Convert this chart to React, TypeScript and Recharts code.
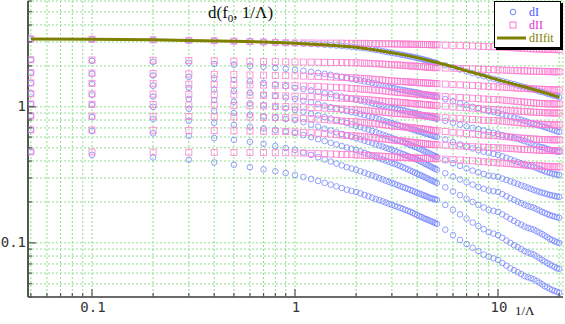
import React from "react";
import { ScatterChart, Scatter, XAxis, YAxis, CartesianGrid, Legend } from "recharts";

// 1/Lambda sample points
const lam = [
  0.05, 0.1, 0.2, 0.3, 0.4, 0.5, 0.6, 0.7, 0.8, 0.9,
  1, 1.1, 1.2, 1.3, 1.4, 1.5, 1.6, 1.7, 1.8, 1.9,
  2, 2.1, 2.2, 2.3, 2.4, 2.5, 2.6, 2.7, 2.8, 2.9,
  3, 3.1, 3.2, 3.3, 3.4, 3.5, 3.6, 3.7, 3.8, 3.9,
  4, 4.1, 4.2, 4.3, 4.4, 4.5, 4.6, 4.7, 4.8, 4.9,
  5, 5.5, 6, 6.5, 7, 7.5, 8, 8.5, 9, 9.5,
  10, 10.5, 11, 11.5, 12, 12.5, 13, 13.5, 14, 14.5,
  15, 15.5, 16, 16.5, 17, 17.5, 18, 18.5, 19, 19.5, 20,
];

// dI curves (blue circles)
const dI1 = [
  3.16, 3.14, 3.11, 3.08, 3.06, 3.04, 3.02, 3.0, 2.98, 2.96,
  2.94, 2.92, 2.9, 2.88, 2.86, 2.84, 2.82, 2.8, 2.78, 2.76,
  2.74, 2.72, 2.7, 2.68, 2.65, 2.62, 2.6, 2.57, 2.54, 2.52,
  2.49, 2.47, 2.45, 2.43, 2.41, 2.39, 2.37, 2.35, 2.33, 2.31,
  2.29, 2.27, 2.25, 2.23, 2.21, 2.19, 2.17, 2.15, 2.13, 2.11,
  2.1, 2.02, 1.95, 1.88, 1.82, 1.77, 1.72, 1.68, 1.64, 1.61,
  1.58, 1.55, 1.52, 1.49, 1.47, 1.44, 1.42, 1.4, 1.38, 1.36,
  1.34, 1.32, 1.3, 1.29, 1.27, 1.25, 1.24, 1.22, 1.21, 1.2, 1.18,
];
const dI2 = [
  2.22, 2.18, 2.14, 2.11, 2.07, 2.04, 2.0, 1.97, 1.93, 1.9,
  1.87, 1.84, 1.81, 1.78, 1.75, 1.72, 1.69, 1.66, 1.63, 1.6,
  1.58, 1.56, 1.54, 1.52, 1.5, 1.48, 1.46, 1.44, 1.42, 1.4,
  1.38, 1.37, 1.35, 1.34, 1.33, 1.32, 1.31, 1.3, 1.29, 1.28,
  1.27, 1.26, 1.25, 1.24, 1.23, 1.22, 1.21, 1.2, 1.19, 1.185,
  1.18, 1.14, 1.1, 1.06, 1.03, 1.0, 0.98, 0.95, 0.93, 0.915,
  0.9, 0.88, 0.865, 0.85, 0.835, 0.82, 0.805, 0.79, 0.775, 0.76,
  0.75, 0.74, 0.73, 0.72, 0.71, 0.7, 0.69, 0.68, 0.67, 0.66, 0.655,
];
const dI3 = [
  1.78, 1.75, 1.7, 1.66, 1.62, 1.58, 1.54, 1.5, 1.46, 1.42,
  1.38, 1.35, 1.32, 1.29, 1.26, 1.24, 1.21, 1.19, 1.17, 1.15,
  1.13, 1.11, 1.095, 1.08, 1.065, 1.05, 1.035, 1.02, 1.005, 0.995,
  0.983, 0.972, 0.962, 0.952, 0.943, 0.934, 0.925, 0.916, 0.907, 0.898,
  0.89, 0.882, 0.874, 0.866, 0.858, 0.851, 0.844, 0.837, 0.83, 0.823,
  0.816, 0.79, 0.765, 0.74, 0.72, 0.7, 0.685, 0.67, 0.655, 0.645,
  0.633, 0.62, 0.61, 0.6, 0.59, 0.58, 0.57, 0.56, 0.55, 0.54,
  0.526, 0.52, 0.51, 0.505, 0.5, 0.49, 0.485, 0.48, 0.475, 0.47, 0.467,
];
const dI4 = [
  1.5, 1.48, 1.43, 1.38, 1.34, 1.31, 1.27, 1.23, 1.2, 1.17,
  1.145, 1.11, 1.08, 1.05, 1.02, 0.995, 0.97, 0.95, 0.93, 0.915,
  0.9, 0.885, 0.87, 0.855, 0.84, 0.825, 0.81, 0.795, 0.783, 0.771,
  0.76, 0.749, 0.738, 0.728, 0.718, 0.708, 0.699, 0.69, 0.682, 0.674,
  0.666, 0.659, 0.652, 0.645, 0.638, 0.631, 0.624, 0.618, 0.612, 0.606,
  0.6, 0.575, 0.55, 0.53, 0.51, 0.495, 0.48, 0.468, 0.458, 0.451,
  0.444, 0.432, 0.422, 0.412, 0.402, 0.393, 0.385, 0.377, 0.37, 0.366,
  0.362, 0.355, 0.348, 0.342, 0.336, 0.331, 0.327, 0.323, 0.32, 0.318, 0.316,
];
const dI5 = [
  1.25, 1.23, 1.19, 1.145, 1.12, 1.09, 1.06, 1.03, 1.0, 0.975,
  0.95, 0.92, 0.89, 0.865, 0.84, 0.82, 0.8, 0.78, 0.76, 0.742,
  0.725, 0.71, 0.695, 0.68, 0.666, 0.652, 0.638, 0.625, 0.613, 0.601,
  0.59, 0.58, 0.57, 0.56, 0.551, 0.542, 0.533, 0.524, 0.516, 0.508,
  0.5, 0.492, 0.484, 0.476, 0.468, 0.461, 0.454, 0.447, 0.44, 0.434,
  0.429, 0.405, 0.385, 0.368, 0.353, 0.34, 0.33, 0.321, 0.313, 0.309,
  0.306, 0.297, 0.29, 0.283, 0.277, 0.271, 0.265, 0.26, 0.255, 0.25,
  0.245, 0.241, 0.237, 0.234, 0.231, 0.228, 0.225, 0.223, 0.221, 0.219, 0.218,
];
const dI6 = [
  1.05, 1.035, 1.0, 0.967, 0.933, 0.9, 0.875, 0.85, 0.83, 0.815,
  0.8, 0.77, 0.74, 0.715, 0.69, 0.67, 0.65, 0.632, 0.616, 0.602,
  0.59, 0.577, 0.564, 0.552, 0.541, 0.53, 0.52, 0.51, 0.5, 0.491,
  0.483, 0.474, 0.466, 0.458, 0.45, 0.442, 0.435, 0.428, 0.421, 0.414,
  0.408, 0.401, 0.394, 0.387, 0.38, 0.374, 0.368, 0.362, 0.356, 0.35,
  0.345, 0.325, 0.307, 0.292, 0.279, 0.268, 0.258, 0.25, 0.243, 0.24,
  0.237, 0.228, 0.22, 0.213, 0.207, 0.201, 0.196, 0.191, 0.187, 0.184,
  0.181, 0.177, 0.173, 0.169, 0.166, 0.163, 0.16, 0.158, 0.156, 0.154, 0.153,
];
const dI7 = [
  0.858, 0.84, 0.815, 0.79, 0.763, 0.737, 0.715, 0.695, 0.676, 0.66,
  0.644, 0.62, 0.598, 0.578, 0.56, 0.544, 0.529, 0.515, 0.502, 0.492,
  0.483, 0.47, 0.459, 0.448, 0.438, 0.428, 0.419, 0.41, 0.402, 0.395,
  0.388, 0.381, 0.374, 0.367, 0.36, 0.353, 0.347, 0.34, 0.334, 0.328,
  0.322, 0.317, 0.312, 0.307, 0.302, 0.297, 0.292, 0.288, 0.284, 0.28,
  0.276, 0.256, 0.239, 0.224, 0.211, 0.2, 0.19, 0.182, 0.175, 0.172,
  0.169, 0.162, 0.156, 0.15, 0.145, 0.14, 0.136, 0.132, 0.129, 0.127,
  0.125, 0.122, 0.119, 0.116, 0.113, 0.11, 0.107, 0.105, 0.103, 0.101, 0.1,
];
const dI8 = [
  0.677, 0.666, 0.638, 0.612, 0.59, 0.572, 0.553, 0.535, 0.515, 0.498,
  0.483, 0.462, 0.443, 0.426, 0.41, 0.396, 0.383, 0.371, 0.36, 0.352,
  0.345, 0.336, 0.328, 0.32, 0.313, 0.306, 0.299, 0.293, 0.287, 0.281,
  0.276, 0.271, 0.266, 0.261, 0.257, 0.253, 0.249, 0.245, 0.241, 0.237,
  0.233, 0.23, 0.227, 0.224, 0.221, 0.218, 0.215, 0.213, 0.211, 0.209,
  0.207, 0.19, 0.175, 0.162, 0.151, 0.141, 0.133, 0.126, 0.12, 0.117,
  0.114, 0.109, 0.104, 0.1, 0.096, 0.093, 0.09, 0.087, 0.085, 0.0835,
  0.082, 0.0795, 0.077, 0.075, 0.073, 0.071, 0.0695, 0.068, 0.0665, 0.065, 0.0645,
];
const dI9 = [
  0.467, 0.444, 0.425, 0.408, 0.39, 0.375, 0.36, 0.347, 0.336, 0.326,
  0.316, 0.305, 0.295, 0.285, 0.276, 0.268, 0.26, 0.253, 0.246, 0.241,
  0.237, 0.231, 0.225, 0.22, 0.215, 0.21, 0.206, 0.202, 0.198, 0.194,
  0.19, 0.187, 0.184, 0.181, 0.178, 0.175, 0.172, 0.169, 0.166, 0.163,
  0.16, 0.157, 0.155, 0.152, 0.15, 0.148, 0.146, 0.144, 0.142, 0.14,
  0.138, 0.125, 0.114, 0.105, 0.098, 0.092, 0.087, 0.082, 0.079, 0.077,
  0.075, 0.071, 0.068, 0.065, 0.063, 0.061, 0.059, 0.057, 0.056, 0.055,
  0.054, 0.0525, 0.051, 0.0495, 0.048, 0.047, 0.046, 0.045, 0.0443, 0.0437, 0.043,
];

// dII curves (magenta squares)
const dII1 = [
  3.16, 3.14, 3.11, 3.08, 3.06, 3.04, 3.02, 3.0, 2.98, 2.96,
  2.95, 2.95, 2.95, 2.94, 2.94, 2.94, 2.94, 2.94, 2.93, 2.93,
  2.93, 2.93, 2.93, 2.92, 2.92, 2.92, 2.92, 2.91, 2.91, 2.91,
  2.9, 2.9, 2.9, 2.9, 2.89, 2.89, 2.89, 2.89, 2.88, 2.88,
  2.88, 2.88, 2.88, 2.87, 2.87, 2.87, 2.87, 2.86, 2.86, 2.86,
  2.86, 2.84, 2.83, 2.82, 2.81, 2.8, 2.79, 2.78, 2.77, 2.765,
  2.76, 2.75, 2.74, 2.73, 2.72, 2.71, 2.7, 2.69, 2.68, 2.675,
  2.67, 2.665, 2.66, 2.655, 2.65, 2.645, 2.64, 2.637, 2.635, 2.632, 2.63,
];
const dII2 = [
  2.22, 2.21, 2.2, 2.19, 2.18, 2.17, 2.16, 2.15, 2.15, 2.14,
  2.14, 2.135, 2.13, 2.13, 2.125, 2.12, 2.12, 2.115, 2.115, 2.11,
  2.11, 2.1, 2.095, 2.09, 2.08, 2.075, 2.07, 2.06, 2.055, 2.05,
  2.04, 2.035, 2.03, 2.025, 2.02, 2.01, 2.005, 2.0, 1.995, 1.99,
  1.985, 1.98, 1.975, 1.97, 1.965, 1.96, 1.955, 1.95, 1.945, 1.94,
  1.94, 1.93, 1.92, 1.915, 1.91, 1.9, 1.895, 1.89, 1.88, 1.875,
  1.87, 1.865, 1.86, 1.855, 1.85, 1.845, 1.84, 1.838, 1.835, 1.832,
  1.83, 1.827, 1.825, 1.822, 1.82, 1.817, 1.815, 1.813, 1.812, 1.811, 1.81,
];
const dII3 = [
  1.78, 1.77, 1.755, 1.745, 1.735, 1.725, 1.715, 1.71, 1.7, 1.695,
  1.69, 1.684, 1.678, 1.672, 1.666, 1.66, 1.654, 1.648, 1.642, 1.636,
  1.63, 1.622, 1.614, 1.606, 1.598, 1.59, 1.582, 1.574, 1.566, 1.558,
  1.55, 1.546, 1.542, 1.538, 1.534, 1.53, 1.526, 1.522, 1.518, 1.514,
  1.51, 1.507, 1.504, 1.501, 1.498, 1.495, 1.492, 1.489, 1.486, 1.483,
  1.48, 1.47, 1.46, 1.452, 1.444, 1.436, 1.428, 1.42, 1.413, 1.406,
  1.4, 1.395, 1.39, 1.385, 1.38, 1.375, 1.37, 1.366, 1.362, 1.358,
  1.354, 1.35, 1.347, 1.344, 1.341, 1.338, 1.335, 1.333, 1.332, 1.331, 1.33,
];
const dII4 = [
  1.5, 1.49, 1.48, 1.47, 1.46, 1.455, 1.45, 1.445, 1.44, 1.435,
  1.43, 1.423, 1.416, 1.409, 1.402, 1.395, 1.388, 1.381, 1.374, 1.367,
  1.36, 1.353, 1.346, 1.339, 1.332, 1.325, 1.318, 1.311, 1.304, 1.297,
  1.29, 1.285, 1.28, 1.275, 1.27, 1.265, 1.26, 1.255, 1.25, 1.245,
  1.24, 1.236, 1.232, 1.228, 1.224, 1.22, 1.216, 1.212, 1.208, 1.204,
  1.2, 1.19, 1.18, 1.172, 1.164, 1.156, 1.149, 1.143, 1.137, 1.133,
  1.13, 1.123, 1.116, 1.109, 1.102, 1.096, 1.09, 1.084, 1.079, 1.074,
  1.069, 1.065, 1.061, 1.058, 1.055, 1.053, 1.052, 1.051, 1.05, 1.05, 1.05,
];
const dII5 = [
  1.25, 1.245, 1.24, 1.235, 1.23, 1.225, 1.22, 1.215, 1.21, 1.205,
  1.2, 1.194, 1.188, 1.182, 1.176, 1.17, 1.164, 1.158, 1.152, 1.148,
  1.145, 1.139, 1.133, 1.127, 1.121, 1.115, 1.109, 1.103, 1.097, 1.093,
  1.09, 1.086, 1.082, 1.078, 1.074, 1.07, 1.066, 1.062, 1.058, 1.054,
  1.05, 1.047, 1.044, 1.041, 1.038, 1.035, 1.032, 1.029, 1.026, 1.023,
  1.02, 1.01, 1.0, 0.992, 0.984, 0.977, 0.97, 0.964, 0.958, 0.954,
  0.95, 0.946, 0.942, 0.938, 0.934, 0.93, 0.926, 0.923, 0.92, 0.917,
  0.914, 0.912, 0.91, 0.908, 0.906, 0.904, 0.903, 0.902, 0.901, 0.9, 0.9,
];
const dII6 = [
  1.05, 1.045, 1.04, 1.035, 1.03, 1.025, 1.02, 1.014, 1.008, 1.004,
  1.0, 0.995, 0.99, 0.985, 0.98, 0.975, 0.97, 0.965, 0.96, 0.955,
  0.95, 0.945, 0.94, 0.935, 0.93, 0.925, 0.92, 0.915, 0.91, 0.905,
  0.9, 0.897, 0.894, 0.891, 0.888, 0.885, 0.882, 0.879, 0.876, 0.873,
  0.87, 0.867, 0.864, 0.861, 0.858, 0.855, 0.852, 0.849, 0.846, 0.843,
  0.84, 0.833, 0.826, 0.82, 0.814, 0.808, 0.803, 0.798, 0.794, 0.792,
  0.79, 0.785, 0.78, 0.775, 0.77, 0.766, 0.762, 0.758, 0.755, 0.752,
  0.749, 0.747, 0.745, 0.743, 0.742, 0.741, 0.74, 0.739, 0.738, 0.737, 0.737,
];
const dII7 = [
  0.858, 0.855, 0.852, 0.849, 0.846, 0.843, 0.84, 0.837, 0.834, 0.832,
  0.83, 0.824, 0.818, 0.812, 0.806, 0.8, 0.794, 0.788, 0.782, 0.779,
  0.776, 0.771, 0.766, 0.761, 0.756, 0.751, 0.746, 0.741, 0.736, 0.73,
  0.725, 0.722, 0.719, 0.716, 0.713, 0.71, 0.707, 0.704, 0.701, 0.698,
  0.695, 0.692, 0.689, 0.686, 0.683, 0.68, 0.677, 0.674, 0.671, 0.668,
  0.666, 0.658, 0.65, 0.643, 0.636, 0.63, 0.625, 0.62, 0.616, 0.614,
  0.612, 0.608, 0.604, 0.6, 0.596, 0.593, 0.59, 0.587, 0.584, 0.582,
  0.58, 0.578, 0.577, 0.576, 0.575, 0.574, 0.573, 0.573, 0.572, 0.572, 0.572,
];
const dII8 = [
  0.677, 0.675, 0.673, 0.671, 0.668, 0.666, 0.664, 0.662, 0.66, 0.658,
  0.655, 0.65, 0.645, 0.64, 0.635, 0.63, 0.625, 0.62, 0.616, 0.614,
  0.612, 0.607, 0.603, 0.599, 0.595, 0.591, 0.587, 0.583, 0.579, 0.575,
  0.572, 0.569, 0.566, 0.563, 0.56, 0.557, 0.554, 0.551, 0.548, 0.545,
  0.543, 0.541, 0.539, 0.537, 0.535, 0.533, 0.531, 0.529, 0.528, 0.527,
  0.526, 0.522, 0.518, 0.515, 0.512, 0.509, 0.507, 0.505, 0.503, 0.501,
  0.5, 0.498, 0.496, 0.494, 0.492, 0.49, 0.488, 0.486, 0.485, 0.484,
  0.483, 0.482, 0.481, 0.48, 0.479, 0.478, 0.477, 0.476, 0.476, 0.475, 0.475,
];
const dII9 = [
  0.467, 0.466, 0.465, 0.464, 0.463, 0.462, 0.461, 0.461, 0.46, 0.46,
  0.459, 0.457, 0.455, 0.453, 0.452, 0.45, 0.449, 0.447, 0.446, 0.445,
  0.444, 0.442, 0.441, 0.439, 0.438, 0.436, 0.435, 0.433, 0.432, 0.43,
  0.429, 0.428, 0.427, 0.426, 0.425, 0.424, 0.423, 0.422, 0.421, 0.42,
  0.42, 0.419, 0.419, 0.418, 0.418, 0.417, 0.417, 0.417, 0.416, 0.416,
  0.416, 0.413, 0.41, 0.407, 0.404, 0.401, 0.398, 0.395, 0.393, 0.39,
  0.388, 0.386, 0.384, 0.382, 0.38, 0.378, 0.376, 0.374, 0.372, 0.371,
  0.37, 0.369, 0.368, 0.367, 0.366, 0.365, 0.364, 0.363, 0.363, 0.362, 0.362,
];

// dIIfit curve
const fitLam = [0.05, 0.1, 0.2, 0.3, 0.5, 0.7, 1, 1.5, 2, 2.5, 3, 3.5, 4, 5, 6, 7, 8.5, 10, 12, 14, 17, 20];
const fitVal = [3.16, 3.14, 3.11, 3.08, 3.04, 3.0, 2.94, 2.84, 2.74, 2.62, 2.5, 2.4, 2.3, 2.12, 1.97, 1.84, 1.7, 1.58, 1.47, 1.38, 1.27, 1.18];

const xTicks = [
  0.05, 0.06, 0.07, 0.08, 0.09, 0.1, 0.2, 0.3, 0.4, 0.5, 0.6, 0.7, 0.8, 0.9,
  1, 2, 3, 4, 5, 6, 7, 8, 9, 10, 20,
];
const yTicks = [
  0.04, 0.05, 0.06, 0.07, 0.08, 0.09, 0.1, 0.2, 0.3, 0.4, 0.5, 0.6, 0.7, 0.8, 0.9,
  1, 2, 3, 4, 5, 6,
];
const xMajor = [0.1, 1, 10];
const yMajor = [0.1, 1];

const dISet = [dI1, dI2, dI3, dI4, dI5, dI6, dI7, dI8, dI9];
const dIISet = [dII1, dII2, dII3, dII4, dII5, dII6, dII7, dII8, dII9];
const toPts = (vals: number[]) => lam.map((x, i) => ({ x, y: vals[i] }));
const fitPts = fitLam.map((x, i) => ({ x, y: fitVal[i] }));

const BLUE = "#7282ff";
const PINK = "#ff78d0";
const OLIVE = "#808000";
const AXIS = "#555";
const mono = "'DejaVu Sans Mono', monospace";
const serif = "'Liberation Serif', 'Times New Roman', serif";

const Circ = (p: any) => (
  <circle cx={p.cx} cy={p.cy} r={2.8} fill="none" stroke={BLUE} strokeWidth={0.9} strokeOpacity={0.85} />
);
const Sq = (p: any) => (
  <rect x={p.cx - 3} y={p.cy - 3} width={6} height={6} fill="none" stroke={PINK} strokeWidth={0.9} strokeOpacity={0.85} />
);

const BottomTick = (p: any) => {
  const v = p.payload.value;
  const major = xMajor.includes(v);
  return (
    <g>
      <line x1={p.x} x2={p.x} y1={p.y} y2={p.y - (major ? 8 : 4)} stroke={AXIS} strokeWidth={1.2} />
      {major && (
        <text x={p.x + 1} y={p.y + 15} textAnchor="middle" fontFamily={mono} fontSize={14} fill="#333">
          {String(v)}
        </text>
      )}
    </g>
  );
};
const TopTick = (p: any) => {
  const major = xMajor.includes(p.payload.value);
  return <line x1={p.x} x2={p.x} y1={p.y} y2={p.y + (major ? 8 : 4)} stroke={AXIS} strokeWidth={1.2} />;
};
const LeftTick = (p: any) => {
  const v = p.payload.value;
  const major = yMajor.includes(v);
  return (
    <g>
      <line x1={p.x} x2={p.x + (major ? 8 : 4)} y1={p.y} y2={p.y} stroke={AXIS} strokeWidth={1.2} />
      {major && (
        <text x={p.x - 2} y={p.y + 4} textAnchor="end" fontFamily={mono} fontSize={14} fill="#333">
          {String(v)}
        </text>
      )}
    </g>
  );
};
const RightTick = (p: any) => {
  const major = yMajor.includes(p.payload.value);
  return <line x1={p.x} x2={p.x - (major ? 8 : 4)} y1={p.y} y2={p.y} stroke={AXIS} strokeWidth={1.2} />;
};

const LegendBox = () => (
  <svg width={72} height={52} style={{ display: "block" }}>
    <rect x={3} y={3} width={67} height={47} fill="#000" />
    <rect x={1.5} y={1.5} width={66} height={46} fill="#fff" stroke="#000" strokeWidth={1} />
    <circle cx={20} cy={12} r={2.8} fill="none" stroke={BLUE} />
    <text x={36} y={16} fontFamily={serif} fontSize={12} fill="#4455ff">dI</text>
    <rect x={17} y={22} width={6} height={6} fill="none" stroke={PINK} />
    <text x={36} y={29} fontFamily={serif} fontSize={12} fill="#e030d0">dII</text>
    <line x1={4} x2={33} y1={38} y2={38} stroke={OLIVE} strokeWidth={3} />
    <text x={36} y={42} fontFamily={serif} fontSize={12} fill={OLIVE}>dIIfit</text>
  </svg>
);

export default function App() {
  const domX: [number, number] = [0.0484, 20.9];
  const domY: [number, number] = [0.04, 6];
  return (
    <div style={{ position: "absolute", left: 0, top: 0, width: 565, height: 324, background: "#fff" }}>
      <ScatterChart width={565} height={324} margin={{ top: 1, right: 2, bottom: 0, left: 0 }}>
        <CartesianGrid stroke="#8ee08a" strokeDasharray="2 2" strokeWidth={1} />
        <XAxis
          dataKey="x" type="number" scale="log" domain={domX} allowDataOverflow ticks={xTicks} interval={0}
          height={27} tickSize={0} tickMargin={0} tickLine={false} tick={BottomTick}
          axisLine={{ stroke: "#6a6a6a", strokeWidth: 2 }}
        />
        <XAxis
          xAxisId="top" orientation="top" type="number" scale="log" domain={domX} allowDataOverflow ticks={xTicks}
          interval={0} height={0} tickSize={0} tickMargin={0} tickLine={false} tick={TopTick}
          axisLine={{ stroke: AXIS, strokeWidth: 1.5 }}
        />
        <YAxis
          dataKey="y" type="number" scale="log" domain={domY} allowDataOverflow ticks={yTicks} interval={0}
          width={28} tickSize={0} tickMargin={0} tickLine={false} tick={LeftTick}
          axisLine={{ stroke: "#222", strokeWidth: 1.5 }}
        />
        <YAxis
          yAxisId="right" orientation="right" type="number" scale="log" domain={domY} allowDataOverflow ticks={yTicks}
          interval={0} width={0} tickSize={0} tickMargin={0} tickLine={false} tick={RightTick}
          axisLine={{ stroke: AXIS, strokeWidth: 1.5 }}
        />
        {dISet.map((s, i) => (
          <Scatter key={"dI" + i} name="dI" data={toPts(s)} shape={Circ} isAnimationActive={false} />
        ))}
        {dIISet.map((s, i) => (
          <Scatter key={"dII" + i} name="dII" data={toPts(s)} shape={Sq} isAnimationActive={false} />
        ))}
        <Scatter
          name="dIIfit" data={fitPts} line={{ stroke: OLIVE, strokeWidth: 3 }} shape={() => <g />}
          isAnimationActive={false}
        />
        <Legend
          layout="horizontal" verticalAlign="middle" align="center" width={72} height={52}
          wrapperStyle={{ left: 493, top: 0, width: 72, height: 52 }} content={LegendBox}
        />
      </ScatterChart>
      <svg width={565} height={324} style={{ position: "absolute", left: 0, top: 0, pointerEvents: "none" }}>
        <text x={208} y={18} fontFamily={serif} fontSize={17} fill="#111">
          d(f<tspan fontSize={11} dy={4}>0</tspan><tspan dy={-4}>, 1/Λ)</tspan>
        </text>
        <text x={515} y={315} fontFamily={serif} fontSize={13} fill="#111">1/Λ</text>
      </svg>
    </div>
  );
}
